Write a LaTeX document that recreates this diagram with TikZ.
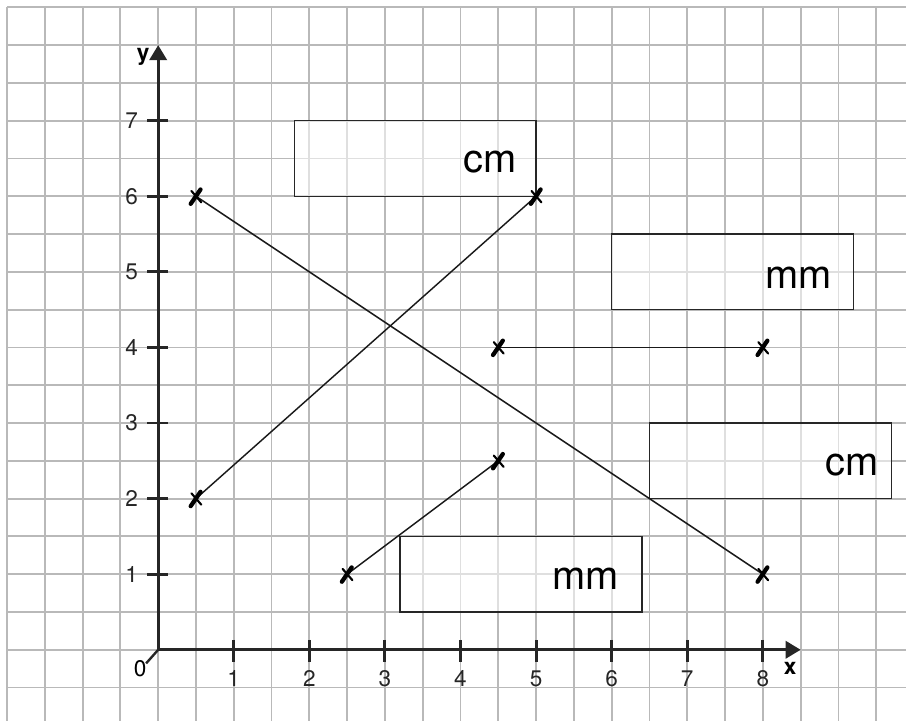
\documentclass[tikz,border=0pt]{standalone}
\usepackage{fontspec}
\setmainfont{TeX Gyre Heros}
\usepackage{tikz}
\usetikzlibrary{arrows.meta}

\begin{document}
\begin{tikzpicture}[>={Triangle[length=0.2cm, width=0.23cm]},
    gridline/.style={gray!55, line width=0.7pt},
    achse/.style={->, line width=1.1pt, black!85},
    tick/.style={line width=1.1pt, black!85},
    zahl/.style={font=\fontsize{8.5}{9}\selectfont},
    kasten/.style={draw=black!85, line width=0.5pt, fill=white, fill opacity=0.55},
    einheit/.style={font=\fontsize{15}{18}\selectfont},
    strecke/.style={line width=0.55pt, black!90}]

    \useasboundingbox (-2.093,-0.94) rectangle (9.894,8.597);

    % 1. Kariertes Papier
    \draw[gridline] (-2,-0.94) grid[step=0.5] (9.894,8.5);

    % 2. Kästchen für die Einheiten
    \draw[kasten] (1.8,6) rectangle (5,7);
    \draw[kasten] (6,4.5) rectangle (9.2,5.5);
    \draw[kasten] (6.5,2) rectangle (9.7,3);
    \draw[kasten] (3.2,0.5) rectangle (6.4,1.5);
    \node[einheit] (e1) at (4.39,6.45) {cm};
    \node[einheit] (e2) at (8.47,4.92) {mm};
    \node[einheit] (e3) at (9.18,2.44) {cm};
    \node[einheit] (e4) at (5.65,0.94) {mm};

    % 3. Koordinatenachsen
    \coordinate (O) at (0,0);
    \coordinate (X) at (8.5,0);
    \coordinate (Y) at (0,8);
    \draw[achse] (O) -- (X);
    \draw[achse] (O) -- (Y);
    \node[font=\bfseries\fontsize{8.5}{9}\selectfont] (xl) at (8.36,-0.25) {x};
    \node[font=\bfseries\fontsize{8.5}{9}\selectfont] (yl) at (-0.2,7.85) {y};
    \draw[line width=0.9pt, black!85] (O) -- (-0.16,-0.18);
    \node[zahl] (null) at (-0.24,-0.25) {0};
    \foreach \i in {1,...,8}
        \draw[tick] (\i,0.13) -- (\i,-0.16) node[zahl, below=-0.5pt] {\i};
    \foreach \i in {1,...,7}
        \draw[tick] (0.13,\i) -- (-0.15,\i) node[zahl, left=-0.5pt] {\i};

    % 4. Punkte und Strecken
    \coordinate (A) at (0.5,6);
    \coordinate (B) at (8,1);
    \coordinate (C) at (0.5,2);
    \coordinate (D) at (5,6);
    \coordinate (E) at (4.5,4);
    \coordinate (F) at (8,4);
    \coordinate (G) at (2.5,1);
    \coordinate (H) at (4.5,2.5);
    \draw[strecke] (A) -- (B);
    \draw[strecke] (C) -- (D);
    \draw[strecke] (E) -- (F);
    \draw[strecke] (G) -- (H);

    % 5. Kreuze an den Punkten
    \foreach \p in {A,B,C,D,E,F,G,H} {
        \draw[shift={(\p)}, line width=1.6pt, line cap=round] (-0.07,-0.1) -- (0.06,0.09);
        \draw[shift={(\p)}, line width=0.8pt, line cap=round] (-0.06,0.07) -- (0.07,-0.08);
    }
\end{tikzpicture}
\end{document}
